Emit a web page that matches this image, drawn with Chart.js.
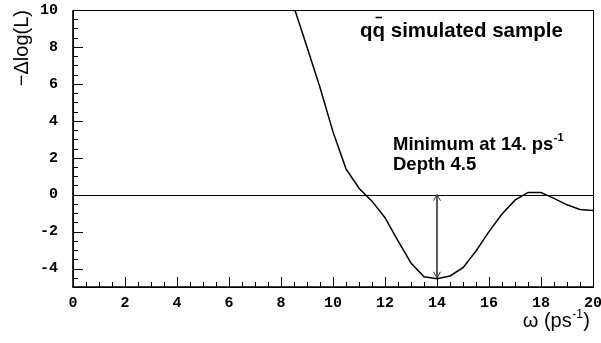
<!DOCTYPE html>
<html>
<head>
<meta charset="utf-8">
<script src="https://cdn.jsdelivr.net/npm/chart.js@4"></script>
<style>
  html, body { margin: 0; padding: 0; background: #fff; }
  #wrap { width: 601px; height: 343px; }
</style>
</head>
<body>
<div id="wrap"><canvas id="c" width="601" height="343"></canvas></div>
<script>
  // scan of -dlog(L) vs omega
  const omega = [8.5, 9, 9.5, 10, 10.5, 11, 11.5, 12, 12.5, 13, 13.5, 14, 14.5, 15, 15.5, 16, 16.5, 17, 17.5, 18, 18.5, 19, 19.5, 20];
  const dlogL = [10.15, 8.0, 5.8, 3.4, 1.4, 0.35, -0.35, -1.25, -2.5, -3.7, -4.45, -4.55, -4.4, -3.95, -3.05, -2.0, -1.05, -0.3, 0.12, 0.12, -0.2, -0.55, -0.8, -0.86];

  const xTicks = [0, 2, 4, 6, 8, 10, 12, 14, 16, 18, 20];
  const yTicks = [-4, -2, 0, 2, 4, 6, 8, 10];
  const xMinorStep = 0.5;
  const yMinorStep = 0.5;

  const minimumAt = 14;
  const depth = 4.5;

  const tickFont = { family: 'Liberation Mono', size: 15, weight: 'bold' };

  function noPad(s) {
    s.paddingTop = 0; s.paddingBottom = 0; s.paddingLeft = 0; s.paddingRight = 0;
  }

  const decor = {
    id: 'decor',
    afterDatasetsDraw(chart) {
      const { ctx, chartArea: a, scales: { x, y } } = chart;
      ctx.save();

      // zero line
      ctx.strokeStyle = '#000';
      ctx.lineWidth = 1;
      ctx.beginPath();
      ctx.moveTo(a.left, Math.round(y.getPixelForValue(0)) + 0.5);
      ctx.lineTo(a.right, Math.round(y.getPixelForValue(0)) + 0.5);
      ctx.stroke();

      // frame
      ctx.lineWidth = 1;
      ctx.strokeRect(a.left + 0.5, a.top + 0.5, a.right - a.left, a.bottom - a.top);
      ctx.lineWidth = 1.6;
      ctx.beginPath();
      ctx.moveTo(a.left, a.top);
      ctx.lineTo(a.left, a.bottom);
      ctx.lineTo(a.right, a.bottom);
      ctx.stroke();

      // inward ticks
      ctx.lineWidth = 1;
      ctx.beginPath();
      for (let v = x.min; v <= x.max + 1e-9; v += xMinorStep) {
        const px = Math.round(x.getPixelForValue(v)) + 0.5;
        const len = xTicks.includes(+v.toFixed(2)) ? 10 : 5;
        ctx.moveTo(px, a.bottom);
        ctx.lineTo(px, a.bottom - len);
      }
      for (let v = y.min; v <= y.max + 1e-9; v += yMinorStep) {
        const py = Math.round(y.getPixelForValue(v)) + 0.5;
        const len = yTicks.includes(+v.toFixed(2)) ? 10 : 5;
        ctx.moveTo(a.left, py);
        ctx.lineTo(a.left + len, py);
      }
      ctx.stroke();

      // arrow at the minimum
      const ax = x.getPixelForValue(minimumAt);
      const y0 = y.getPixelForValue(0);
      const y1 = y.getPixelForValue(-depth);
      ctx.strokeStyle = '#333';
      ctx.lineWidth = 1.6;
      ctx.beginPath();
      ctx.moveTo(ax, y0);
      ctx.lineTo(ax, y1);
      ctx.stroke();
      ctx.lineWidth = 1;
      ctx.beginPath();
      ctx.moveTo(ax - 3.5, y0 + 6); ctx.lineTo(ax, y0); ctx.lineTo(ax + 3.5, y0 + 6);
      ctx.moveTo(ax - 3.5, y1 - 6); ctx.lineTo(ax, y1); ctx.lineTo(ax + 3.5, y1 - 6);
      ctx.stroke();

      // labels
      ctx.fillStyle = '#000';
      ctx.strokeStyle = '#000';
      ctx.textBaseline = 'alphabetic';
      ctx.textAlign = 'left';
      ctx.font = 'bold 20.5px "Liberation Sans", Arial, sans-serif';
      const tx = 360, ty = 37;
      ctx.fillText('qq simulated sample', tx, ty);
      const wq = ctx.measureText('q').width;
      ctx.lineWidth = 1.5;
      ctx.beginPath();
      ctx.moveTo(tx + wq + 3, ty - 19.5);
      ctx.lineTo(tx + 2 * wq - 3, ty - 19.5);
      ctx.stroke();

      const mx = 393;
      ctx.font = 'bold 18.5px "Liberation Sans", Arial, sans-serif';
      const mline = 'Minimum at ' + minimumAt + '. ps';
      ctx.fillText(mline, mx, 150);
      const mw = ctx.measureText(mline).width;
      ctx.font = 'bold 11px "Liberation Sans", Arial, sans-serif';
      ctx.fillText('-1', mx + mw + 0.5, 141);
      ctx.font = 'bold 18.5px "Liberation Sans", Arial, sans-serif';
      ctx.fillText('Depth ' + depth, mx, 170);

      // x title
      ctx.font = '20px "Liberation Sans", Arial, sans-serif';
      const p1 = '\u03C9 (ps', p3 = ')';
      const w1 = ctx.measureText(p1).width;
      const w3 = ctx.measureText(p3).width;
      ctx.font = '12px "Liberation Sans", Arial, sans-serif';
      const w2 = ctx.measureText('-1').width;
      const xr = 590, xb = 327;
      const xs = xr - w1 - w2 - w3 - 1;
      ctx.font = '20px "Liberation Sans", Arial, sans-serif';
      ctx.fillText(p1, xs, xb);
      ctx.fillText(p3, xs + w1 + w2 + 1, xb);
      ctx.font = '12px "Liberation Sans", Arial, sans-serif';
      ctx.fillText('-1', xs + w1 + 0.5, xb - 9);

      // y title
      ctx.font = '20px "Liberation Sans", Arial, sans-serif';
      ctx.translate(28, 10);
      ctx.rotate(-Math.PI / 2);
      ctx.textAlign = 'right';
      ctx.fillText('\u2212\u0394log(L)', 0, 0);

      ctx.restore();
    }
  };

  new Chart(document.getElementById('c'), {
    type: 'line',
    data: {
      datasets: [{
        data: omega.map((w, i) => ({ x: w, y: dlogL[i] })),
        borderColor: '#000',
        borderWidth: 1.5,
        pointRadius: 0,
        tension: 0,
        fill: false,
      }],
    },
    options: {
      responsive: false,
      animation: false,
      events: [],
      layout: { padding: { top: 10, right: 8, left: 0, bottom: 0 } },
      plugins: { legend: { display: false }, tooltip: { enabled: false } },
      scales: {
        x: {
          type: 'linear',
          min: 0,
          max: 20,
          afterBuildTicks: s => { s.ticks = xTicks.map(v => ({ value: v })); },
          afterFit: s => { s.height = 56; noPad(s); },
          grid: { display: false, drawTicks: false },
          border: { display: false },
          ticks: { font: tickFont, color: '#000', padding: 7, maxRotation: 0, autoSkip: false },
        },
        y: {
          type: 'linear',
          min: -5,
          max: 10,
          afterBuildTicks: s => { s.ticks = yTicks.map(v => ({ value: v })); },
          afterFit: s => { s.width = 73; noPad(s); },
          grid: { display: false, drawTicks: false },
          border: { display: false },
          ticks: { font: tickFont, color: '#000', padding: 15, autoSkip: false },
        },
      },
    },
    plugins: [decor],
  });
</script>
</body>
</html>
